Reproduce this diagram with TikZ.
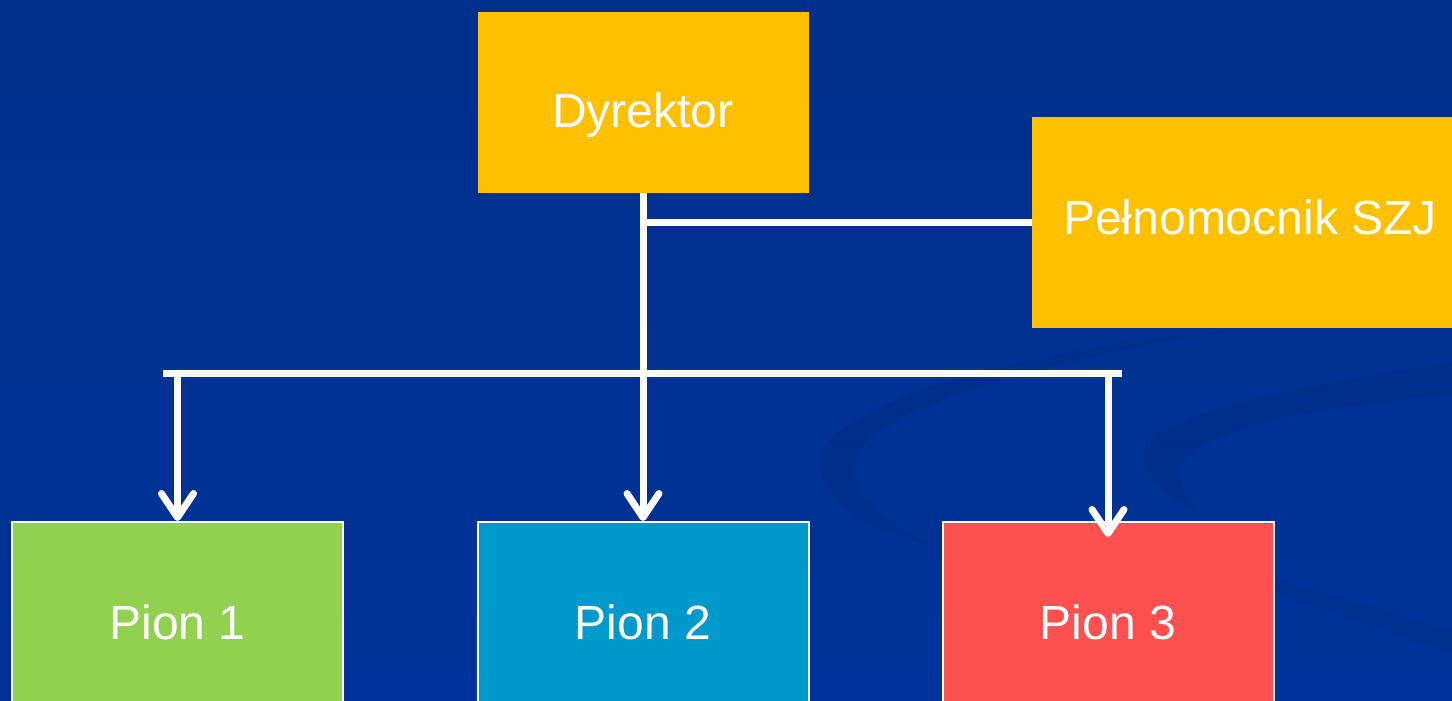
\documentclass[tikz,border=0pt]{standalone}
\usepackage{fontspec}
\setmainfont{Liberation Sans}
\usetikzlibrary{arrows.meta, positioning}

\definecolor{tlo}{HTML}{003399}
\definecolor{zolty}{HTML}{FFC000}
\definecolor{zielony}{HTML}{92D050}
\definecolor{niebieski}{HTML}{0099CC}
\definecolor{czerwony}{HTML}{FF5050}

\begin{document}
\begin{tikzpicture}[x=0.5pt, y=-0.5pt,
    box/.style={inner sep=0pt, text=white, font=\fontsize{24}{28}\selectfont,
                text height=17.5pt, text depth=0pt, minimum width=165.5pt},
    pion/.style={box, draw=white, line width=1pt, minimum height=100pt},
    linia/.style={white, line width=3.5pt},
    strzalka/.style={linia, -{Straight Barb[length=12pt, width=16pt, line width=3.5pt, round]}}]
        %\draw [step=100] (0,0) grid (1452,701);

        % tlo i smugi
        \clip (0,0) rectangle (1452,701);
        \shade[top color=tlo!92!black, bottom color=tlo] (0,0) rectangle (1452,701);
        \fill[black, opacity=0.045] (1240,330) .. controls (1000,350) and (815,410) .. (820,465)
            .. controls (825,510) and (870,530) .. (930,545)
            .. controls (880,515) and (850,495) .. (855,465)
            .. controls (865,410) and (1040,360) .. (1240,330);
        \fill[black, opacity=0.045] (1452,362) .. controls (1300,385) and (1145,415) .. (1143,455)
            .. controls (1143,485) and (1170,500) .. (1200,512)
            .. controls (1185,495) and (1180,485) .. (1180,470)
            .. controls (1190,430) and (1320,405) .. (1452,395);
        \fill[black, opacity=0.035] (1150,545) .. controls (1250,570) and (1350,600) .. (1452,630)
            -- (1452,655) .. controls (1350,620) and (1250,585) .. (1150,545);

        % prostokaty
        \node[box, fill=zolty, minimum height=90.5pt, text height=25.5pt] (dyr) at (643,102.5) {Dyrektor};
        \node[box, fill=zolty, minimum width=218pt, minimum height=105.5pt, text height=12pt] (peln) at (1250,222.5) {Pełnomocnik SZJ};
        \node[pion, fill=zielony] (pion1) at (177.5,622) {Pion 1};
        \node[pion, fill=niebieski] (pion2) at (643,622) {Pion 2};
        \node[pion, fill=czerwony] (pion3) at (1108,622) {Pion 3};

        % polaczenia
        \coordinate (barL) at (163,373);
        \coordinate (barR) at (1122,373);
        \coordinate (grot3) at (1108,537);
        \draw[linia] (barL) -- (barR);
        \draw[linia] (dyr.south |- peln.west) -- (peln.west);
        \draw[strzalka] (dyr.south) -- (pion2.north);
        \draw[strzalka] (pion1.north |- barL) -- (pion1.north);
        \draw[strzalka] (pion3.north |- barL) -- (grot3);
    \end{tikzpicture}
\end{document}
